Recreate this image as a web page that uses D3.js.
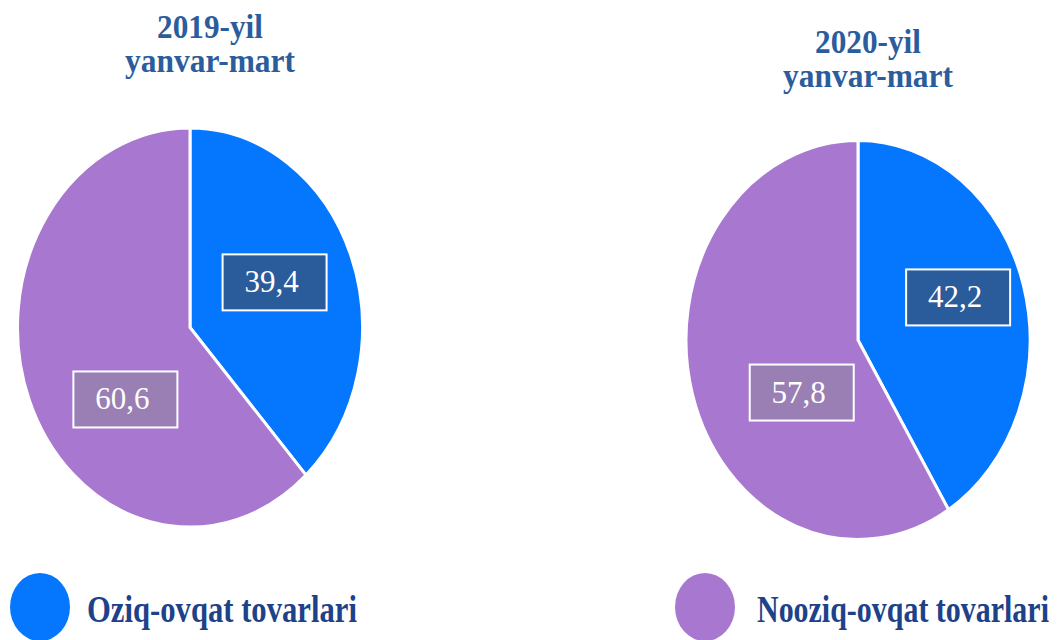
<!DOCTYPE html>
<html>
<head>
<meta charset="utf-8">
<script src="https://cdn.jsdelivr.net/npm/d3@7"></script>
<style>
  html, body { margin: 0; padding: 0; background: #fff; }
  svg { display: block; }
</style>
</head>
<body>
<svg id="chart" width="1060" height="640"></svg>
<script>
// ---- data ----
const categories = ["Oziq-ovqat tovarlari", "Nooziq-ovqat tovarlari"];
const periodTitles = ["2019-yil", "2020-yil"];
const periodSubtitles = ["yanvar-mart", "yanvar-mart"];
const values2019 = [39.4, 60.6];
const values2020 = [42.2, 57.8];
const labels2019 = ["39,4", "60,6"];
const labels2020 = ["42,2", "57,8"];

// ---- styles ----
const sliceColors = ["#0576FE", "#A877D0"];
const boxColors = ["#2A5B9B", "#997FB4"];
const titleColor = "#2B5D9C";
const legendTextColor = "#1D4289";
const serif = "'Liberation Serif', 'Times New Roman', serif";

const svg = d3.select("#chart");

// draws text horizontally compressed to a target width via transform
function fitText(parent, str, x, y, width, size, color, anchor) {
  const g = parent.append("g");
  const t = g.append("text")
    .attr("x", 0).attr("y", 0)
    .attr("font-family", serif)
    .attr("font-weight", "bold")
    .attr("font-size", size)
    .attr("fill", color)
    .text(str);
  const w = t.node().getComputedTextLength();
  const sx = Math.min(1, width / w);
  if (anchor === "middle") t.attr("text-anchor", "middle");
  g.attr("transform", `translate(${x},${y}) scale(${sx},1)`);
  return g;
}

const pies = [
  { title: periodTitles[0], sub: periodSubtitles[0], values: values2019, labels: labels2019,
    cx: 190, cy: 327.5, rx: 172.5, ry: 199.5, titleX: 210, titleY: 38,
    labelFrac: [0.54, 0.52] },
  { title: periodTitles[1], sub: periodSubtitles[1], values: values2020, labels: labels2020,
    cx: 858, cy: 340, rx: 172, ry: 199.5, titleX: 868, titleY: 53,
    labelFrac: [0.62, 0.42] }
];

const pieLayout = d3.pie().sort(null).value(d => d);
const TAU = Math.PI * 2;

pies.forEach(p => {
  const arcs = pieLayout(p.values);
  // convert pixel-space angle to ellipse parametric angle
  const toParam = a => {
    if (a <= 1e-9) return 0;
    if (a >= TAU - 1e-9) return TAU;
    let f = Math.atan2(p.ry * Math.sin(a), p.rx * Math.cos(a));
    if (f < 0) f += TAU;
    return f;
  };
  const rayLen = a => 1 / Math.sqrt(Math.pow(Math.sin(a) / p.rx, 2) + Math.pow(Math.cos(a) / p.ry, 2));
  const arcGen = d3.arc().innerRadius(0).outerRadius(p.ry);

  const g = svg.append("g")
    .attr("transform", `translate(${p.cx},${p.cy}) scale(${p.rx / p.ry},1)`);
  g.selectAll("path").data(arcs).join("path")
    .attr("d", d => arcGen({ startAngle: toParam(d.startAngle), endAngle: toParam(d.endAngle) }))
    .attr("fill", (d, i) => sliceColors[i])
    .attr("stroke", "#fff")
    .attr("stroke-width", 3)
    .attr("vector-effect", "non-scaling-stroke");

  // labels
  const lg = svg.append("g").attr("transform", `translate(${p.cx},${p.cy})`);
  const shifts = [-9 * Math.PI / 180, -29 * Math.PI / 180];
  arcs.forEach((d, i) => {
    const a = (d.startAngle + d.endAngle) / 2 + shifts[i];
    const r = rayLen(a) * p.labelFrac[i];
    const x = Math.sin(a) * r, y = -Math.cos(a) * r;
    const bw = 104, bh = 56;
    lg.append("rect")
      .attr("x", x - bw / 2).attr("y", y - bh / 2)
      .attr("width", bw).attr("height", bh)
      .attr("fill", boxColors[i])
      .attr("stroke", "#fff").attr("stroke-width", 2);
    lg.append("text")
      .attr("x", x - 3).attr("y", y + 10)
      .attr("text-anchor", "middle")
      .attr("font-family", serif)
      .attr("font-size", 31)
      .attr("fill", "#fff")
      .text(p.labels[i]);
  });

  // title
  fitText(svg, p.title, p.titleX, p.titleY, 106, 33, titleColor, "middle");
  fitText(svg, p.sub, p.titleX, p.titleY + 34, 170, 33, titleColor, "middle");
});

// legend
const legendItems = [
  { x: 40, tx: 87, tw: 270 },
  { x: 705, tx: 757, tw: 292 }
];
legendItems.forEach((l, i) => {
  svg.append("ellipse")
    .attr("cx", l.x).attr("cy", 607).attr("rx", 30).attr("ry", 34)
    .attr("fill", sliceColors[i]);
  fitText(svg, categories[i], l.tx, 622, l.tw, 37, legendTextColor, "start");
});
</script>
</body>
</html>
